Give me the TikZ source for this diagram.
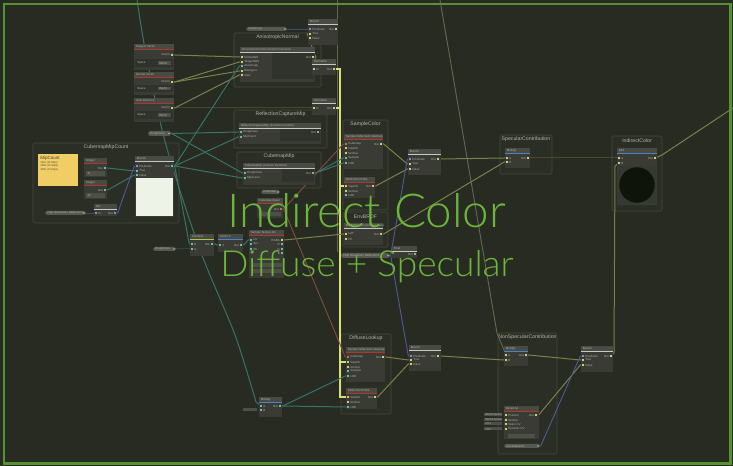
\documentclass[tikz,border=0pt]{standalone}
\usepackage{fontspec}
\setmainfont{Liberation Sans}
\IfFontExistsTF{Lato Light}{\newfontfamily\bigfont{Lato Light}}{\newfontfamily\bigfont{Noto Sans}}
\usetikzlibrary{fit}
\pgfdeclarelayer{bgl}
\pgfdeclarelayer{edgel}
\pgfsetlayers{bgl,edgel,main}
\definecolor{bg}{RGB}{40,43,34}
\definecolor{framegreen}{RGB}{88,146,48}
\definecolor{biggreen}{RGB}{108,182,60}
\definecolor{nodebody}{RGB}{57,59,52}
\definecolor{nodehead}{RGB}{72,74,67}
\definecolor{groupfill}{RGB}{43,46,37}
\definecolor{groupline}{RGB}{68,72,60}
\definecolor{redbar}{RGB}{172,56,44}
\definecolor{bluebar}{RGB}{72,132,200}
\definecolor{limebar}{RGB}{168,200,70}
\definecolor{whitebar}{RGB}{198,200,194}
\definecolor{yeledge}{RGB}{122,128,74}
\definecolor{brightedge}{RGB}{214,224,118}
\definecolor{tealedge}{RGB}{56,114,104}
\definecolor{blueedge}{RGB}{76,90,150}
\definecolor{brownedge}{RGB}{128,76,60}
\definecolor{greyedge}{RGB}{98,104,80}
\definecolor{pillfill}{RGB}{86,89,80}
\definecolor{sticky}{RGB}{240,206,100}
\definecolor{prevwhite}{RGB}{238,243,232}
\definecolor{prevbg}{RGB}{54,57,49}
\definecolor{prevdark}{RGB}{14,20,10}
\definecolor{txtgrey}{RGB}{176,178,170}
\definecolor{titlegrey}{RGB}{176,180,170}
\definecolor{ctrlbg}{RGB}{48,50,44}
\definecolor{ctrlbox}{RGB}{78,80,72}
\definecolor{yelport}{RGB}{205,208,120}
\definecolor{tealport}{RGB}{110,185,172}
\definecolor{blueport}{RGB}{120,140,215}
\definecolor{brownport}{RGB}{190,110,90}
\tikzset{
  tinytext/.style={font=\fontsize{2.2}{2.5}\selectfont, text=txtgrey, inner sep=0},
  grouptitle/.style={font=\fontsize{3.9}{4.4}\selectfont, text=titlegrey, inner sep=0},
  groupbox/.style={draw=groupline, fill=groupfill, line width=0.4pt, rounded corners=1pt},
  yel/.style={draw=yeledge, line width=0.75pt},
  bright/.style={draw=brightedge, line width=1.3pt},
  teal/.style={draw=tealedge, line width=0.75pt},
  blue/.style={draw=blueedge, line width=0.7pt},
  brown/.style={draw=brownedge, line width=0.7pt},
  greyl/.style={draw=greyedge, line width=0.7pt},
  bigtxt/.style={text=biggreen, inner sep=0, anchor=base west}
}
\newcommand\ggroup[6]{%
  \draw[groupbox] (#2,#3) rectangle (#4,#5);
  \node[grouptitle] (#1-t) at ({(#2+#4)/2},{#3+4.6}) {#6};
  \node[inner sep=0, fit={(#2,#3) (#4,#5)}] (#1) {};}
\newcommand\gnode[7]{%
  \fill[nodebody] (#2,#3) rectangle (#4,#5);
  \fill[nodehead] (#2,#3) rectangle (#4,{#3+5});
  \fill[#6] (#2,{#3+5}) rectangle (#4,{#3+6.2});
  \node[tinytext,anchor=west] (#1-t) at ({#2+1.5},{#3+2.6}) {#7};
  \node[inner sep=0, fit={(#2,#3) (#4,#5)}] (#1) {};}
\newcommand\inp[5]{%
  \coordinate (#1) at (#2,#3);
  \fill[#4] ({#2-0.9},{#3-0.9}) rectangle ({#2+0.9},{#3+0.9});
  \node[tinytext,anchor=west] (#1-l) at ({#2+2},#3) {#5};}
\newcommand\outp[5]{%
  \coordinate (#1) at (#2,#3);
  \fill[#4] ({#2-0.9},{#3-0.9}) rectangle ({#2+0.9},{#3+0.9});
  \node[tinytext,anchor=east] (#1-l) at ({#2-2},#3) {#5};}
\newcommand\pill[6]{%
  \fill[pillfill, rounded corners=1.4pt] (#2,#3) rectangle (#4,#5);
  \node[tinytext,anchor=west] (#1-l) at ({#2+2},{(#3+#5)/2}) {#6};
  \coordinate (#1) at ({#4-2},{(#3+#5)/2});
  \fill[txtgrey] (#1) circle (0.6pt);}
\newcommand\ctrl[7]{%
  \fill[ctrlbg] (#2,#3) rectangle (#4,#5);
  \node[tinytext,anchor=west] (#1-a) at ({#2+2},{(#3+#5)/2}) {#6};
  \fill[ctrlbox] ({#4-15},{(#3+#5)/2-1.6}) rectangle ({#4-2},{(#3+#5)/2+1.6});
  \node[tinytext,anchor=west] (#1-b) at ({#4-14},{(#3+#5)/2}) {#7};}
\newcommand\edge[3]{\draw[#1] (#2) -- ([xshift=2pt]#2) -- ([xshift=-2pt]#3) -- (#3);}
\begin{document}
\begin{tikzpicture}[x=0.75pt,y=-0.75pt]
\begin{pgfonlayer}{bgl}
\fill[bg] (0,0) rectangle (733,466);
\ggroup{gmip}{33}{143}{179}{223}{CubemapMipCount}
\ggroup{ganis}{234}{33}{321}{87}{AnisotropicNormal}
\ggroup{grcm}{234}{110}{327}{148}{ReflectionCaptureMip}
\ggroup{gcm}{237}{152}{321}{188}{CubemapMip}
\ggroup{gsc}{343}{120}{388}{210}{SampleColor}
\ggroup{genv}{343}{212}{388}{247}{EnvBRDF}
\ggroup{gspec}{500}{135}{552}{174}{SpecularContribution}
\ggroup{gind}{612}{136}{662}{211}{IndirectColor}
\ggroup{gdl}{341}{334}{391}{414}{DiffuseLookup}
\ggroup{gns}{498}{333}{557}{454}{NonSpecularContribution}
\end{pgfonlayer}
\useasboundingbox (0,0) rectangle (733,466);

% ---------- left vector nodes
\gnode{tan}{134}{44}{174}{70}{redbar}{Tangent Vector}
\outp{tano}{172}{55}{yelport}{Out(3)}
\ctrl{tanc}{135}{59}{173}{67}{Space}{World}
\gnode{nor}{134}{72}{174}{95}{redbar}{Normal Vector}
\outp{noro}{172}{82}{yelport}{Out(3)}
\ctrl{norc}{135}{85}{173}{92}{Space}{World}
\gnode{view}{134}{98}{174}{122}{redbar}{View Direction}
\outp{viewo}{172}{108}{yelport}{Out(3)}
\ctrl{viewc}{135}{111}{173}{119}{Space}{World}
\pill{pvec}{148}{131}{171}{136}{Roughness}

% ---------- anisotropic group
\pill{ptop}{246}{27}{287}{31}{Anisotropy}
\gnode{br1}{308}{19}{338}{45}{whitebar}{Branch}
\inp{br1p}{310}{29}{blueport}{Predicate}
\inp{br1t}{310}{34}{yelport}{True}
\inp{br1f}{310}{38}{yelport}{False}
\outp{br1o}{336}{29}{yelport}{Out}
\gnode{anis}{240}{47}{315}{82}{whitebar}{AnisotropicNormal (Custom Function)}
\fill[ctrlbg] (272,53) rectangle (314,79);
\inp{anis1}{242}{57}{yelport}{NormalWS}
\inp{anis2}{242}{62}{yelport}{TangentWS}
\inp{anis3}{242}{66}{tealport}{Anisotropy}
\inp{anis4}{242}{71}{yelport}{Bitangent}
\inp{anis5}{242}{75}{yelport}{View}
\outp{aniso}{313}{57}{yelport}{Out}
\gnode{nrm2}{312}{59}{336}{75}{whitebar}{Normalize}
\inp{nrm2i}{314}{69}{yelport}{In}
\outp{nrm2o}{334}{69}{yelport}{Out}
\gnode{nrm3}{312}{98}{336}{115}{whitebar}{Normalize}
\inp{nrm3i}{314}{108}{yelport}{In}
\outp{nrm3o}{334}{108}{yelport}{Out}

% ---------- mip groups
\gnode{rcm}{239}{123}{321}{144}{whitebar}{ReflectionCaptureMip (Custom Function)}
\fill[ctrlbg] (280,129) rectangle (320,141);
\inp{rcm1}{241}{132}{tealport}{Roughness}
\inp{rcm2}{241}{137}{tealport}{MipCount}
\outp{rcmo}{318}{132}{tealport}{Out}
\gnode{cm}{243}{163}{315}{185}{whitebar}{CubemapMip (Custom Function)}
\fill[ctrlbg] (282,169) rectangle (314,182);
\inp{cm1}{245}{173}{tealport}{Roughness}
\inp{cm2}{245}{178}{tealport}{MipCount}
\outp{cmo}{313}{173}{tealport}{Out}
\pill{pcm}{261}{190}{280}{194}{Cubemap}
\gnode{asset}{257}{198}{283}{218}{redbar}{Cubemap Asset}
\outp{asseto}{281}{209}{brownport}{Out}
\fill[ctrlbox] (259,212) rectangle (281,216.5);

% ---------- MipCount group
\fill[sticky] (38,154) rectangle (78,186);
\node[inner sep=0, anchor=north west, font=\fontsize{3.4}{4}\selectfont, text=black!75] (stk) at (40,156) {MipCount};
\node[inner sep=0, anchor=north west, align=left, font=\fontsize{2}{2.6}\selectfont, text=black!70] (stk2) at (40,161) {1024 (11 Mips)\\2048 (12 Mips)\\4096 (13 Mips)};
\gnode{int1}{84}{158}{107}{177}{redbar}{Integer}
\outp{int1o}{105}{168}{tealport}{Out}
\fill[ctrlbox] (86,171) rectangle (105,176);
\node[tinytext,anchor=west] (int1v) at (87,173.5) {11};
\gnode{int2}{84}{180}{107}{199}{redbar}{Integer}
\outp{int2o}{105}{190}{tealport}{Out}
\fill[ctrlbox] (86,193) rectangle (105,198);
\node[tinytext,anchor=west] (int2v) at (87,195.5) {12};
\gnode{br3}{135}{156}{174}{217}{whitebar}{Branch}
\inp{br3p}{137}{166}{blueport}{Predicate}
\inp{br3t}{137}{171}{tealport}{True}
\inp{br3f}{137}{175}{tealport}{False}
\outp{br3o}{172}{166}{tealport}{Out}
\fill[prevwhite] (136,178) rectangle (173,216);
\gnode{not}{94}{204}{117}{216}{whitebar}{Not}
\inp{noti}{96}{213}{blueport}{In}
\outp{noto}{115}{213}{blueport}{Out}
\pill{pmip}{45}{211}{86}{215}{High Resolution Reflections}

% ---------- combine row
\pill{pleft}{153}{247}{176}{251}{Roughness}
\gnode{comb}{190}{234}{214}{256}{limebar}{Combine}
\inp{comb1}{192}{244}{tealport}{R}
\inp{comb2}{192}{249}{tealport}{G}
\outp{combo}{212}{244}{tealport}{RG}
\gnode{vec}{218}{234}{243}{252}{bluebar}{Vector 2}
\inp{veci}{220}{245}{tealport}{X}
\outp{veco}{241}{245}{tealport}{Out}
\gnode{tex}{249}{230}{284}{278}{redbar}{Sample Texture 2D}
\inp{tex1}{251}{240}{tealport}{UV}
\inp{tex2}{251}{244}{tealport}{Tex}
\inp{tex3}{251}{249}{tealport}{SS}
\outp{texo}{282}{240}{yelport}{RGBA}
\outp{texr}{282}{244}{tealport}{R}
\outp{texg}{282}{249}{tealport}{G}
\outp{texb}{282}{253}{tealport}{B}
\fill[ctrlbox] (252,263) rectangle (282,267);
\fill[ctrlbox] (252,269) rectangle (282,273);

% ---------- sample color
\gnode{s1}{344}{134}{383}{169}{redbar}{Sample Reflected Cubemap}
\inp{s1i1}{346}{144}{brownport}{Cubemap}
\inp{s1i2}{346}{148}{yelport}{ViewDir}
\inp{s1i3}{346}{153}{yelport}{Normal}
\inp{s1i4}{346}{158}{tealport}{Sampler}
\inp{s1i5}{346}{163}{tealport}{LOD}
\outp{s1o}{381}{144}{yelport}{Out}
\gnode{s2}{344}{177}{375}{198}{redbar}{Reflection Probe}
\inp{s2i1}{346}{186}{yelport}{ViewDir}
\inp{s2i2}{346}{191}{yelport}{Normal}
\inp{s2i3}{346}{195}{tealport}{LOD}
\outp{s2o}{373}{186}{yelport}{Out}
\gnode{env}{344}{223}{383}{245}{whitebar}{EnvBRDF (Custom Function)}
\inp{env1}{346}{234}{yelport}{LUT}
\inp{env2}{346}{239}{yelport}{F0}
\outp{envo}{381}{234}{yelport}{Out}
\pill{pwide}{341}{253}{390}{258}{High Resolution Reflections}
\gnode{flt}{392}{246}{417}{258}{whitebar}{Float}
\outp{flto}{415}{254}{tealport}{Out}
\gnode{br2}{408}{149}{441}{175}{whitebar}{Branch}
\inp{br2p}{410}{159}{blueport}{Predicate}
\inp{br2t}{410}{164}{yelport}{True}
\inp{br2f}{410}{169}{yelport}{False}
\outp{br2o}{438}{159}{yelport}{Out}

% ---------- specular / indirect
\gnode{mul1}{505}{148}{530}{168}{bluebar}{Multiply}
\inp{mul1a}{507}{158}{yelport}{A}
\inp{mul1b}{507}{162}{yelport}{B}
\outp{mul1o}{528}{158}{yelport}{Out}
\gnode{add}{617}{148}{657}{205}{bluebar}{Add}
\inp{adda}{619}{158}{yelport}{A}
\inp{addb}{619}{163}{yelport}{B}
\outp{addo}{655}{158}{yelport}{Out}
\fill[prevbg] (618,166) rectangle (656,204);
\fill[prevdark] (637,185) circle (13.3pt);

% ---------- diffuse lookup
\gnode{s3}{346}{347}{385}{382}{redbar}{Sample Reflected Cubemap}
\inp{s3i1}{348}{357}{brownport}{Cubemap}
\inp{s3i2}{348}{362}{yelport}{ViewDir}
\inp{s3i3}{348}{367}{yelport}{Normal}
\inp{s3i4}{348}{371}{tealport}{Sampler}
\inp{s3i5}{348}{376}{tealport}{LOD}
\outp{s3o}{383}{357}{yelport}{Out}
\gnode{s4}{346}{388}{377}{409}{redbar}{Reflection Probe}
\inp{s4i1}{348}{397}{yelport}{ViewDir}
\inp{s4i2}{348}{402}{yelport}{Normal}
\inp{s4i3}{348}{407}{tealport}{LOD}
\outp{s4o}{375}{397}{yelport}{Out}
\gnode{br4}{409}{345}{441}{371}{whitebar}{Branch}
\inp{br4p}{411}{356}{blueport}{Predicate}
\inp{br4t}{411}{360}{yelport}{True}
\inp{br4f}{411}{364}{yelport}{False}
\outp{br4o}{438}{356}{yelport}{Out}
\gnode{mul2}{259}{397}{282}{417}{bluebar}{Multiply}
\inp{mul2a}{261}{406}{tealport}{A}
\inp{mul2b}{261}{410}{tealport}{B}
\outp{mul2o}{280}{406}{tealport}{Out}
\fill[ctrlbox] (243,408.5) rectangle (257,411.5);

% ---------- non specular
\gnode{mul3}{504}{346}{528}{366}{bluebar}{Multiply}
\inp{mul3a}{506}{355}{yelport}{A}
\inp{mul3b}{506}{360}{yelport}{B}
\outp{mul3o}{526}{355}{yelport}{Out}
\gnode{v4}{504}{406}{539}{439}{redbar}{Baked GI}
\inp{v4a}{506}{415}{yelport}{Position}
\inp{v4b}{506}{420}{yelport}{Normal}
\inp{v4c}{506}{424}{yelport}{Static UV}
\inp{v4d}{506}{429}{yelport}{Dynamic UV}
\outp{v4o}{536}{415}{yelport}{Out}
\fill[ctrlbox] (508,434) rectangle (535,438);
\foreach \yy/\tt/\nm in {415/World Space/fa,420/World Space/fb,424/UV1/fc,429/UV2/fd}{
  \fill[ctrlbox] (484,{\yy-1.5}) rectangle (502,{\yy+1.5});
  \node[tinytext,anchor=west] (\nm) at (485,\yy) {\tt};
}
\pill{pns}{504}{444}{540}{448}{Use Baked GI}
\gnode{br5}{581}{346}{613}{372}{whitebar}{Branch}
\inp{br5p}{583}{356}{blueport}{Predicate}
\inp{br5t}{583}{360}{yelport}{True}
\inp{br5f}{583}{365}{yelport}{False}
\outp{br5o}{611}{356}{yelport}{Out}

\coordinate (topA) at (337,0);
\coordinate (topB) at (440,0);
\coordinate (topC) at (137,0);
\coordinate (rightend) at (733,108);

% ---------- edges
\begin{pgfonlayer}{edgel}
\draw[greyl] (topA) -- (337,252);
\draw[greyl] (topB) -- (497,333) -- (mul3a);
\draw[teal] plot[smooth] coordinates {(137,0) (147,60) (166,145) (200,250) (235,335) (256,402)} -- (mul2a);
\edge{yel}{tano}{anis1}
\edge{yel}{noro}{anis2}
\edge{yel}{noro}{anis4}
\edge{yel}{viewo}{nrm3i}
\edge{yel}{viewo}{anis5}
\edge{yel}{aniso}{br1t}
\edge{yel}{aniso}{nrm2i}
\draw[greyl] (br1o) -- (337,29);
\draw[bright] (nrm2o) -- (340,69) -- (340,397) -- (s4i1);
\draw[bright] (nrm3o) -- (340,108);
\draw[bright] (340,186) -- (s2i1);
\draw[bright] (340,362) -- (s3i2);
\edge{yel}{s1o}{br2t}
\edge{yel}{s2o}{br2f}
\edge{yel}{br2o}{mul1a}
\edge{yel}{mul1o}{adda}
\edge{yel}{envo}{mul1b}
\edge{yel}{s3o}{br4t}
\edge{yel}{s4o}{br4f}
\edge{yel}{br4o}{mul3b}
\edge{yel}{mul3o}{br5t}
\edge{yel}{v4o}{br5f}
\draw[yel] (br5o) -- (614,353) -- (615,166) -- (addb);
\draw[yel] (addo) -- (662,155) -- (rightend);
\edge{yel}{texo}{env1}
\edge{teal}{pvec}{rcm1}
\edge{teal}{pvec}{cm1}
\edge{teal}{br3o}{rcm2}
\edge{teal}{br3o}{cm2}
\edge{teal}{br3o}{anis3}
\edge{teal}{br3o}{comb1}
\edge{teal}{pleft}{comb2}
\edge{teal}{combo}{veci}
\edge{teal}{veco}{tex1}
\edge{teal}{cmo}{s1i4}
\edge{teal}{cmo}{s1i5}
\edge{teal}{mul2o}{s3i5}
\edge{teal}{mul2o}{s4i3}
\edge{teal}{int1o}{br3t}
\edge{teal}{int2o}{br3f}
\edge{blue}{ptop}{br1p}
\edge{blue}{pmip}{noti}
\edge{blue}{noto}{br3p}
\edge{blue}{pwide}{br2p}
\edge{blue}{pwide}{br4p}
\edge{blue}{pns}{br5p}
\edge{brown}{asseto}{s1i1}
\edge{brown}{asseto}{s3i1}
\end{pgfonlayer}

% ---------- title
\node[bigtxt] (title1) at (227,228) {\resizebox{209pt}{25.5pt}{\bigfont Indirect Color}};
\node[bigtxt] (title2) at (220,277) {\resizebox{220pt}{19.6pt}{\bigfont Diffuse + Specular}};

% ---------- frame
\draw[framegreen, line width=2.2pt] (4,4) rectangle (730.5,463.5);
\end{tikzpicture}
\end{document}
